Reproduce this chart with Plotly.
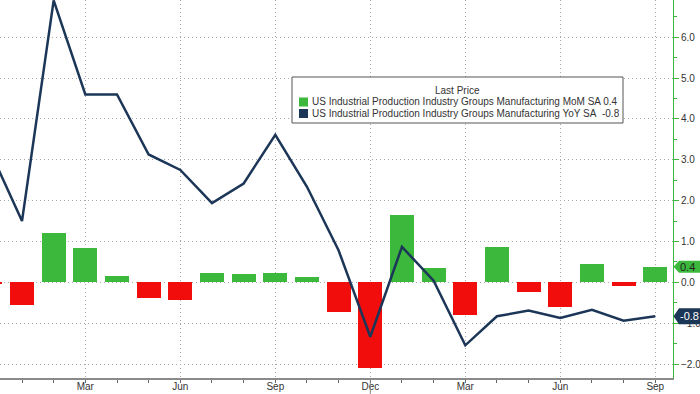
import plotly.graph_objects as go

# ---- data (Dec 2021 .. Sep 2023) ----
month_idx = list(range(22))  # 0 = Dec 2021, 1 = Jan 2022, ... 21 = Sep 2023
mom = [-0.05, -0.55, 1.2, 0.85, 0.15, -0.37, -0.42, 0.23, 0.2, 0.23, 0.12, -0.73,
       -2.1, 1.65, 0.35, -0.8, 0.87, -0.24, -0.6, 0.45, -0.1, 0.38]
yoy = [3.2, 1.5, 6.9, 4.6, 4.6, 3.13, 2.75, 1.94, 2.42, 3.61, 2.34, 0.78,
       -1.33, 0.87, 0.04, -1.54, -0.83, -0.69, -0.87, -0.67, -0.94, -0.83]
tick_pos = [3, 6, 9, 12, 15, 18, 21]
tick_text = ["Mar", "Jun", "Sep", "Dec", "Mar", "Jun", "Sep"]
year_labels = ["2022", "2023"]
year_break = 12
legend_title = "Last Price"
name_mom = "US Industrial Production Industry Groups Manufacturing MoM SA"
name_yoy = "US Industrial Production Industry Groups Manufacturing YoY SA"

GREEN = "#3cb83c"
RED = "#f20d0d"
NAVY = "#1c3657"
TXT = "#333333"
GRID = "#a8a8a8"
FONT = "Liberation Sans"

xr = [0.305, 21.56]
yr = [-2.34, 6.91]

W, H = 700, 394
ML, MR, MT, MB = 0, 27, 0, 16
PW, PH = W - ML - MR, H - MT - MB


def px(x):
    return (x - ML) / PW


def py(y):
    return 1 - (y - MT) / PH


def ypaper(v):
    return (v - yr[0]) / (yr[1] - yr[0])


bar_colors = [GREEN if v >= 0 else RED for v in mom]

fig = go.Figure()
fig.add_trace(go.Bar(x=month_idx, y=mom, marker=dict(color=bar_colors, line=dict(width=0)),
                     width=0.76, showlegend=False, hoverinfo="skip"))
fig.add_trace(go.Scatter(x=month_idx, y=yoy, mode="lines", line=dict(color=NAVY, width=2.5),
                         showlegend=False, hoverinfo="skip"))

shapes = []
annotations = []

# ---- manual legend box ----
lx0, lx1, ly0, ly1 = 292, 623, 77, 123
shapes.append(dict(type="rect", xref="paper", yref="paper", x0=px(lx0), x1=px(lx1),
                   y0=py(ly1), y1=py(ly0), fillcolor="white",
                   line=dict(color="#555555", width=1), layer="above"))
annotations.append(dict(x=px((lx0 + lx1) / 2), y=py(90), xref="paper", yref="paper",
                        text=legend_title, showarrow=False, xanchor="center", yanchor="middle",
                        font=dict(family=FONT, size=10, color=TXT)))
for label, col, yc in [(f"{name_mom} {mom[-1]:.1f}", GREEN, 102),
                       (f"{name_yoy}&nbsp;&nbsp;{yoy[-1]:.1f}", NAVY, 113.5)]:
    shapes.append(dict(type="rect", xref="paper", yref="paper", x0=px(299), x1=px(308),
                       y0=py(yc + 4.5), y1=py(yc - 4.5), fillcolor=col, line=dict(width=0),
                       layer="above"))
    annotations.append(dict(x=px(310), y=py(yc), xref="paper", yref="paper", text=label,
                            showarrow=False, xanchor="left", yanchor="middle",
                            font=dict(family=FONT, size=10, color=TXT)))

# ---- last value tags on right axis ----
for v, col, tcol, hh in [(mom[-1], GREEN, "#222222", 6), (yoy[-1], NAVY, "white", 8)]:
    yc = ypaper(v)
    dy = hh / PH
    x0 = 1 + 0.5 / PW
    x1 = 1 + 6 / PW
    x2 = 1 + 30 / PW
    path = (f"M {x0},{yc} L {x1},{yc+dy} L {x2},{yc+dy} L {x2},{yc-dy} L {x1},{yc-dy} Z")
    shapes.append(dict(type="path", path=path, xref="paper", yref="paper",
                       fillcolor=col, line=dict(width=0), layer="above"))
    annotations.append(dict(x=1 + 5 / PW, y=yc, xref="paper", yref="paper", text=f"{v:.1f}",
                            showarrow=False, xanchor="left", yanchor="middle",
                            font=dict(family=FONT, size=11, color=tcol)))

# year separator tick
shapes.append(dict(type="line", xref="x", yref="paper", x0=year_break, x1=year_break,
                   y0=0, y1=-16 / PH, line=dict(color="#888888", width=1)))
# year labels centred on their visible spans
for lab, c in zip(year_labels, [(xr[0] + year_break) / 2, (year_break + xr[1]) / 2]):
    annotations.append(dict(x=c, y=0, xref="x", yref="paper", text=lab, showarrow=False,
                            yanchor="top", yshift=-13,
                            font=dict(family=FONT, size=10, color=TXT)))

fig.update_layout(
    width=W, height=H,
    margin=dict(l=ML, r=MR, t=MT, b=MB, autoexpand=False),
    paper_bgcolor="white", plot_bgcolor="white",
    showlegend=False,
    bargap=0,
    font=dict(family=FONT, size=10, color=TXT),
    shapes=shapes, annotations=annotations,
    xaxis=dict(range=xr, tickvals=tick_pos, ticktext=tick_text, ticks="outside", ticklen=0,
               tickcolor="#666666", showline=True, linecolor="#8a8a8a", linewidth=2,
               showgrid=True, gridcolor=GRID, griddash="1px,3px", gridwidth=1,
               zeroline=False, automargin=False, ticklabelstandoff=-2,
               tickfont=dict(family=FONT, size=10, color=TXT),
               minor=dict(dtick=1, tick0=0, ticks="outside", ticklen=3, tickcolor="#666666",
                          showgrid=False, gridcolor="rgba(0,0,0,0)")),
    yaxis=dict(range=yr, side="right", dtick=1, tick0=0, tickformat=".1f",
               ticks="outside", ticklen=5, tickcolor=GREEN, showline=True, linecolor=GREEN,
               linewidth=1, showgrid=True, gridcolor=GRID, griddash="1px,3px", gridwidth=1,
               zeroline=False, automargin=False,
               tickfont=dict(family=FONT, size=10, color=TXT),
               minor=dict(dtick=0.5, tick0=0, ticks="outside", ticklen=3, tickcolor=GREEN,
                          showgrid=False, gridcolor="rgba(0,0,0,0)")),
)

fig.write_html(
    "out.html",
    config={"displayModeBar": False, "staticPlot": True},
    post_script="document.body.style.margin='0';document.body.style.overflow='hidden';",
)
